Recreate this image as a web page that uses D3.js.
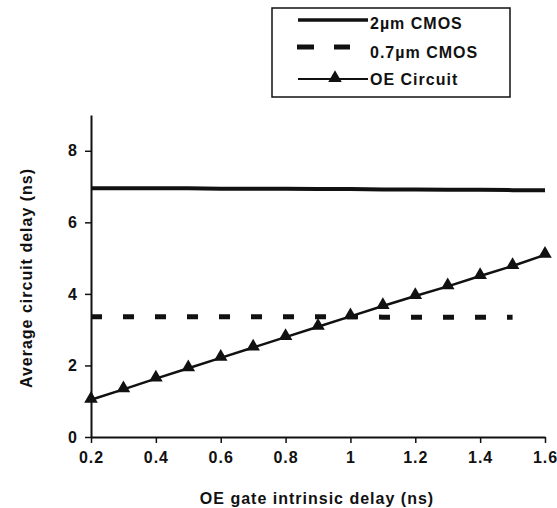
<!DOCTYPE html>
<html>
<head>
<meta charset="utf-8">
<script src="https://cdn.jsdelivr.net/npm/d3@7"></script>
<style>
  body { margin: 0; background: #fff; }
  svg text { font-family: "Liberation Sans", Arial, sans-serif; font-weight: bold; fill: #111; letter-spacing: 1px; }
</style>
</head>
<body>
<div id="corpo"></div>
<script>
// dados
var delayX = [0.2, 0.3, 0.4, 0.5, 0.6, 0.7, 0.8, 0.9, 1.0, 1.1, 1.2, 1.3, 1.4, 1.5, 1.6];
var cmos2um = [6.95, 6.95, 6.95, 6.95, 6.94, 6.94, 6.94, 6.93, 6.93, 6.92, 6.92, 6.91, 6.91, 6.9, 6.9];
var cmos07X = [0.2, 0.3, 0.4, 0.5, 0.6, 0.7, 0.8, 0.9, 1.0, 1.1, 1.2, 1.3, 1.4, 1.5];
var cmos07 = [3.36, 3.36, 3.36, 3.36, 3.36, 3.36, 3.36, 3.36, 3.36, 3.35, 3.35, 3.35, 3.35, 3.35];
var oeCircuit = [1.04, 1.33, 1.63, 1.92, 2.21, 2.5, 2.79, 3.08, 3.37, 3.66, 3.94, 4.21, 4.5, 4.78, 5.09];

var xTicks = [0.2, 0.4, 0.6, 0.8, 1, 1.2, 1.4, 1.6];
var yTicks = [0, 2, 4, 6, 8];
var legendLabels = ["2\u00b5m CMOS", "0.7\u00b5m CMOS", "OE Circuit"];

var width = 557, height = 508;

var svg = d3.select("#corpo").append("svg")
	.attr("width", width)
	.attr("height", height);

var x = d3.scaleLinear().domain([0.2, 1.6]).range([91, 545]);
var y = d3.scaleLinear().domain([0, 9]).range([437, 115]);

/* eixos */
var xAxis = d3.axisBottom(x)
	.tickValues(xTicks)
	.tickSize(6)
	.tickSizeOuter(0)
	.tickPadding(9)
	.tickFormat(function(d){ return String(+d.toFixed(1)); });

var yAxis = d3.axisLeft(y)
	.tickValues(yTicks)
	.tickSize(6)
	.tickSizeOuter(0)
	.tickPadding(7);

var gx = svg.append("g")
	.attr("transform", "translate(0," + y(0) + ")")
	.call(xAxis);

var gy = svg.append("g")
	.attr("transform", "translate(" + x(0.2) + ",0)")
	.call(yAxis);

[gx, gy].forEach(function(g){
	g.select(".domain").attr("stroke", "#111").attr("stroke-width", 2);
	g.selectAll(".tick line").attr("stroke", "#111").attr("stroke-width", 1.5);
	g.selectAll(".tick text").attr("font-size", 16).attr("fill", "#111");
});

// titulos dos eixos
svg.append("text")
	.attr("x", 317)
	.attr("y", 504)
	.attr("text-anchor", "middle")
	.attr("font-size", 16)
	.text("OE gate intrinsic delay (ns)");

svg.append("text")
	.attr("transform", "translate(32,278) rotate(-90)")
	.attr("text-anchor", "middle")
	.attr("font-size", 16)
	.text("Average circuit delay (ns)");

/* linhas */
var line = function(xs){
	return d3.line()
		.x(function(d, i){ return x(xs[i]); })
		.y(function(d){ return y(d); });
};

svg.append("path")
	.datum(cmos2um)
	.attr("d", line(delayX))
	.attr("fill", "none")
	.attr("stroke", "#111")
	.attr("stroke-width", 4);

svg.append("path")
	.datum(cmos07)
	.attr("d", line(cmos07X))
	.attr("fill", "none")
	.attr("stroke", "#111")
	.attr("stroke-width", 5)
	.attr("stroke-dasharray", "11,21");

svg.append("path")
	.datum(oeCircuit)
	.attr("d", line(delayX))
	.attr("fill", "none")
	.attr("stroke", "#111")
	.attr("stroke-width", 2.5);

var tri = d3.symbol().type(d3.symbolTriangle).size(80);

svg.selectAll(".oe-mark")
	.data(oeCircuit)
	.enter().append("path")
	.attr("class", "oe-mark")
	.attr("d", tri)
	.attr("transform", function(d, i){ return "translate(" + x(delayX[i]) + "," + (y(d) - 1) + ")"; })
	.attr("fill", "#111");

/* legenda */
var leg = svg.append("g").attr("transform", "translate(272,8)");

leg.append("rect")
	.attr("width", 238)
	.attr("height", 89)
	.attr("fill", "#fff")
	.attr("stroke", "#111")
	.attr("stroke-width", 1.5);

var rowY = [12, 39, 71];

leg.append("line")
	.attr("x1", 26).attr("x2", 96)
	.attr("y1", rowY[0]).attr("y2", rowY[0])
	.attr("stroke", "#111").attr("stroke-width", 3.5);

leg.append("line")
	.attr("x1", 25).attr("x2", 78)
	.attr("y1", rowY[1]).attr("y2", rowY[1])
	.attr("stroke", "#111").attr("stroke-width", 5)
	.attr("stroke-dasharray", "17,20");

leg.append("line")
	.attr("x1", 26).attr("x2", 96)
	.attr("y1", rowY[2]).attr("y2", rowY[2])
	.attr("stroke", "#111").attr("stroke-width", 2);

leg.append("path")
	.attr("d", tri)
	.attr("transform", "translate(63," + (rowY[2] - 1) + ")")
	.attr("fill", "#111");

var textY = [21, 50, 77];

leg.selectAll(".leg-text")
	.data(legendLabels)
	.enter().append("text")
	.attr("class", "leg-text")
	.attr("x", 98)
	.attr("y", function(d, i){ return textY[i]; })
	.attr("font-size", 16)
	.text(function(d){ return d; });
</script>
</body>
</html>
